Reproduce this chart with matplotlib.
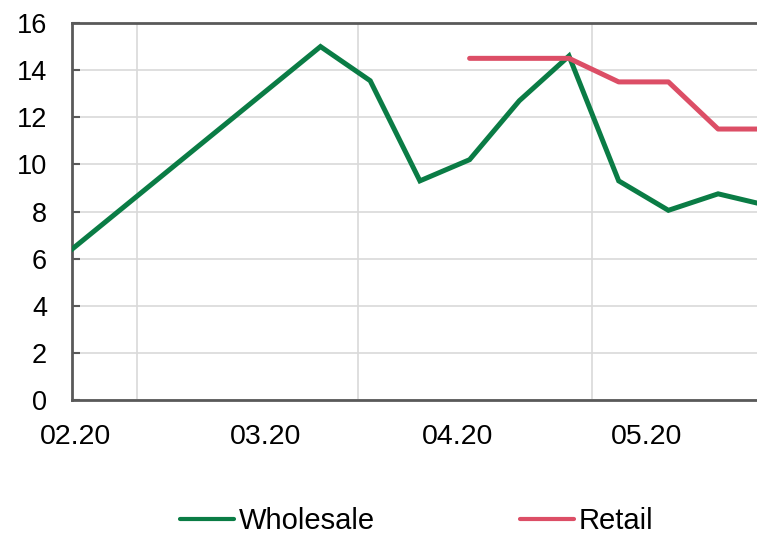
import matplotlib.pyplot as plt
from matplotlib.lines import Line2D

plt.rcParams['font.family'] = ['Liberation Sans', 'DejaVu Sans']

# weekly observations, x in weeks from the start of February 2020
wholesale_weeks = [0, 5, 6, 7, 8, 9, 10, 11, 12, 13, 14]
wholesale = [6.4, 15.0, 13.55, 9.3, 10.2, 12.7, 14.6, 9.3, 8.05, 8.75, 8.25]

retail_weeks = [8, 9, 10, 11, 12, 13, 14]
retail = [14.5, 14.5, 14.5, 13.5, 13.5, 11.5, 11.5]

month_labels = ['02.20', '03.20', '04.20', '05.20']
month_pos = [0.08, 3.9, 7.75, 11.57]
grid_pos = [1.31, 5.75, 10.46]

green = '#0a7c45'
pink = '#dc4e66'
spine_col = '#595959'
grid_col = '#d9d9d9'

fig = plt.figure(figsize=(7.57, 5.37), dpi=100)
ax = fig.add_axes([72 / 757, 1 - 400 / 537, 1 - 72 / 757, 377 / 537])

ax.plot(wholesale_weeks, wholesale, color=green, lw=3.6, solid_joinstyle='miter', zorder=3)
ax.plot(retail_weeks, retail, color=pink, lw=3.6, solid_capstyle='round', zorder=3)

ax.set_xlim(0, 685 / 49.7)
ax.set_ylim(0, 16)
ax.set_yticks(range(0, 17, 2))
ax.set_xticks(month_pos)
ax.set_xticklabels(month_labels)
ax.set_xticks(grid_pos, minor=True)

ax.grid(axis='y', color=grid_col, lw=1.2, zorder=0)
ax.grid(axis='x', which='minor', color=grid_col, lw=1.2, zorder=0)

ax.tick_params(axis='y', direction='in', length=6, width=1.5, color=spine_col,
               labelsize=19.5, pad=18)
ax.tick_params(axis='x', which='major', length=0, labelsize=20.5, pad=17)
ax.tick_params(axis='x', which='minor', length=0)

for side in ['left', 'bottom', 'top']:
    ax.spines[side].set_color(spine_col)
    ax.spines[side].set_linewidth(2)
ax.spines['right'].set_visible(False)

handles = [Line2D([], [], color=green, lw=3, solid_capstyle='round'),
           Line2D([], [], color=pink, lw=3, solid_capstyle='round')]
fig.legend(handles, ['Wholesale', 'Retail'], loc='center', ncol=2,
           bbox_to_anchor=(0.55, 0.03), frameon=False, fontsize=21,
           handlelength=1.85, handletextpad=0.17, columnspacing=4.97,
           borderpad=0.1)

fig.savefig('out.png', dpi=100)
